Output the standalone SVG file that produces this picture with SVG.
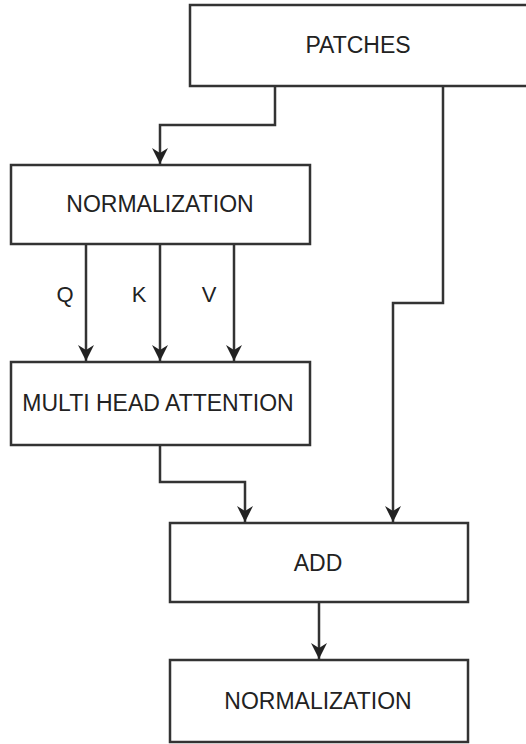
<svg xmlns="http://www.w3.org/2000/svg" width="526" height="744" viewBox="0 0 526 744">
<defs>
<style>
.box{fill:#fff;stroke:#333;stroke-width:2.5}
.lbl{font-family:"Liberation Sans",Arial,sans-serif;font-size:23px;fill:#222;text-anchor:middle;dominant-baseline:central}
.qkv{font-family:"Liberation Sans",Arial,sans-serif;font-size:22px;fill:#222;text-anchor:middle;dominant-baseline:central}
.conn{fill:none;stroke:#333;stroke-width:2.5;marker-end:url(#ah)}
</style>
<marker id="ah" markerUnits="userSpaceOnUse" viewBox="-17 -9 18 18" refX="0" refY="0" markerWidth="18" markerHeight="18" orient="auto">
<path d="M0,0 L-16,-8 L-11,0 L-16,8 Z" fill="#222"/>
</marker>
</defs>
<rect width="526" height="744" fill="#fff"/>
<g id="connectors">
<path class="conn" d="M275,86 V125 H160 V164"/>
<path class="conn" d="M443,86 V303 H393 V522"/>
<path class="conn" d="M86,244 V361"/>
<path class="conn" d="M160,244 V361"/>
<path class="conn" d="M234,244 V361"/>
<path class="conn" d="M160,445 V482 H245 V522"/>
<path class="conn" d="M319,602 V659"/>
</g>
<g id="patches">
<rect class="box" x="190" y="5" width="345" height="81"/>
<text class="lbl" x="358" y="45">PATCHES</text>
</g>
<g id="norm1">
<rect class="box" x="11" y="165" width="299" height="79"/>
<text class="lbl" x="160" y="204">NORMALIZATION</text>
</g>
<g id="labels">
<text class="qkv" x="65" y="294">Q</text>
<text class="qkv" x="139" y="294">K</text>
<text class="qkv" x="209" y="294">V</text>
</g>
<g id="mha">
<rect class="box" x="11" y="362" width="299" height="83"/>
<text class="lbl" x="158" y="403">MULTI HEAD ATTENTION</text>
</g>
<g id="add">
<rect class="box" x="170" y="523" width="298" height="79"/>
<text class="lbl" x="318" y="563">ADD</text>
</g>
<g id="norm2">
<rect class="box" x="170" y="660" width="298" height="82"/>
<text class="lbl" x="318" y="701">NORMALIZATION</text>
</g>
</svg>
